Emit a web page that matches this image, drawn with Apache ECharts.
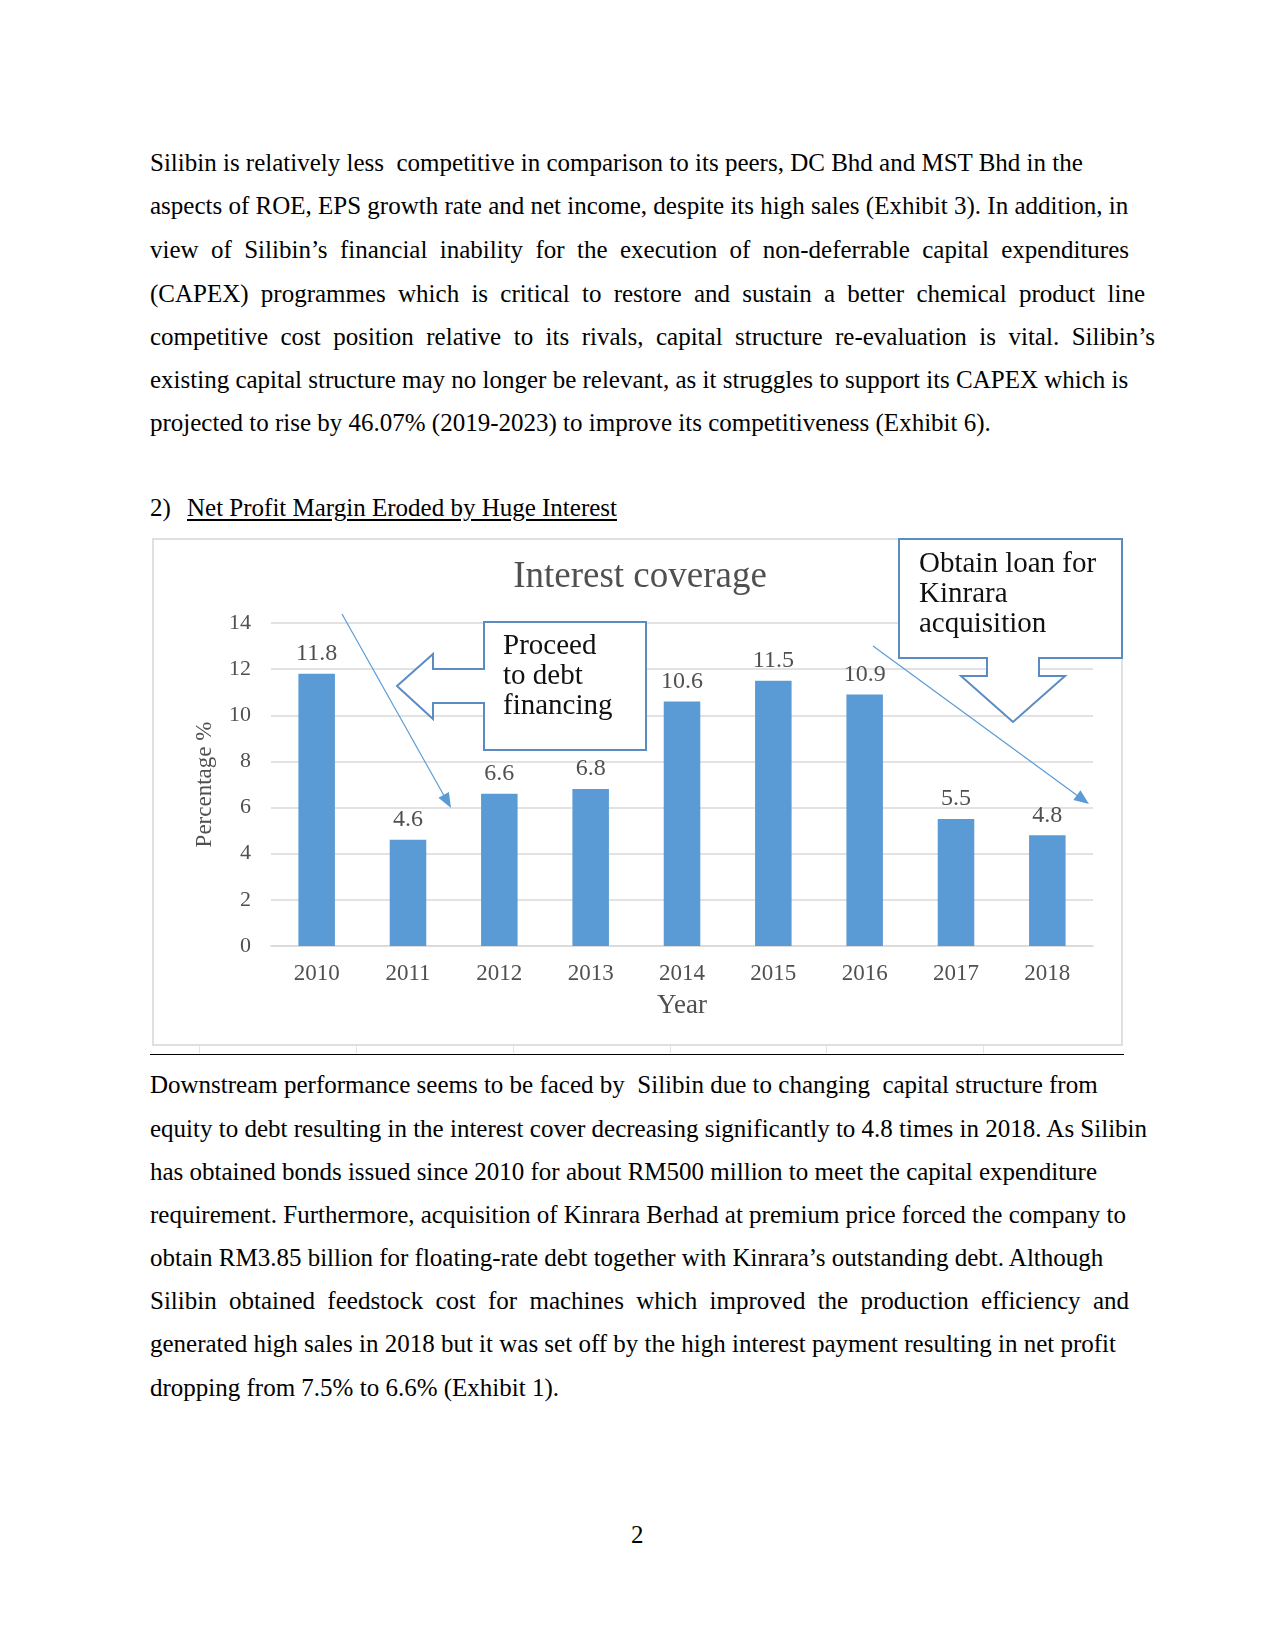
<!DOCTYPE html>
<html>
<head>
<meta charset="utf-8">
<script src="https://cdn.jsdelivr.net/npm/echarts@6/dist/echarts.min.js"></script>
<style>
  html, body { margin:0; padding:0; background:#fff; }
  body { width:1275px; height:1651px; position:relative; overflow:hidden; font-family:"Liberation Serif","Times New Roman",serif; color:#000; }
  .ln { position:absolute; left:150px; height:30px; line-height:30px; font-size:25px; white-space:pre; }
  .j { text-align:justify; text-align-last:justify; white-space:normal; }
  #chart { position:absolute; left:150px; top:535px; width:980px; height:515px; }
  .rule { position:absolute; left:150px; top:1054px; width:974px; height:1px; background:#000; }
  .tk { position:absolute; top:1046px; width:1px; height:7px; background:#e4e4e4; }
</style>
</head>
<body>
<div class="ln" style="top:148px">Silibin is relatively less  competitive in comparison to its peers, DC Bhd and MST Bhd in the</div>
<div class="ln" style="top:191px">aspects of ROE, EPS growth rate and net income, despite its high sales (Exhibit 3). In addition, in</div>
<div class="ln j" style="top:235px;width:979px">view of Silibin’s financial inability for the execution of non-deferrable capital expenditures</div>
<div class="ln j" style="top:279px;width:995px">(CAPEX) programmes which is critical to restore and sustain a better chemical product line</div>
<div class="ln j" style="top:322px;width:1005px">competitive cost position relative to its rivals, capital structure re-evaluation is vital. Silibin’s</div>
<div class="ln" style="top:365px">existing capital structure may no longer be relevant, as it struggles to support its CAPEX which is</div>
<div class="ln" style="top:408px">projected to rise by 46.07% (2019-2023) to improve its competitiveness (Exhibit 6).</div>

<div class="ln" style="top:493px">2)</div>
<div class="ln" style="top:493px;left:187px;text-decoration:underline;text-underline-offset:3px">Net Profit Margin Eroded by Huge Interest</div>

<div id="chart"></div>
<div class="tk" style="left:199px"></div>
<div class="tk" style="left:356px"></div>
<div class="tk" style="left:513px"></div>
<div class="tk" style="left:670px"></div>
<div class="tk" style="left:826px"></div>
<div class="tk" style="left:983px"></div>
<div class="rule"></div>

<div class="ln" style="top:1070px">Downstream performance seems to be faced by  Silibin due to changing  capital structure from</div>
<div class="ln" style="top:1114px">equity to debt resulting in the interest cover decreasing significantly to 4.8 times in 2018. As Silibin</div>
<div class="ln" style="top:1157px">has obtained bonds issued since 2010 for about RM500 million to meet the capital expenditure</div>
<div class="ln" style="top:1200px">requirement. Furthermore, acquisition of Kinrara Berhad at premium price forced the company to</div>
<div class="ln" style="top:1243px">obtain RM3.85 billion for floating-rate debt together with Kinrara’s outstanding debt. Although</div>
<div class="ln j" style="top:1286px;width:979px">Silibin obtained feedstock cost for machines which improved the production efficiency and</div>
<div class="ln" style="top:1329px">generated high sales in 2018 but it was set off by the high interest payment resulting in net profit</div>
<div class="ln" style="top:1373px">dropping from 7.5% to 6.6% (Exhibit 1).</div>

<div class="ln" style="top:1520px;left:631px">2</div>

<script>
const years = ['2010','2011','2012','2013','2014','2015','2016','2017','2018'];
const coverage = [11.8, 4.6, 6.6, 6.8, 10.6, 11.5, 10.9, 5.5, 4.8];
const chartTitle = 'Interest coverage';
const xName = 'Year';
const yName = 'Percentage %';
const note1 = ['Proceed', 'to debt', 'financing'];
const note2 = ['Obtain loan for', 'Kinrara', 'acquisition'];

const SERIF = '"Liberation Serif","Times New Roman",serif';
const GREY = '#505050';
const chart = echarts.init(document.getElementById('chart'), null, {renderer:'canvas'});

function arrow(x1, y1, x2, y2, color) {
  const dx = x2 - x1, dy = y2 - y1, len = Math.hypot(dx, dy);
  const ux = dx / len, uy = dy / len;
  const L = 15, W = 6;
  const bx = x2 - ux * L, by = y2 - uy * L;
  return [
    { type:'line', shape:{x1:x1, y1:y1, x2:bx, y2:by}, style:{stroke:color, lineWidth:1.2}, z:20 },
    { type:'polygon', shape:{points:[[x2,y2],[bx - uy*W, by + ux*W],[bx + uy*W, by - ux*W]]}, style:{fill:color}, z:20 }
  ];
}

const calloutStroke = '#5A8CC2';
const textStyle = (x, y, t) => ({ type:'text', x:x, y:y, z:30,
  style:{ text:t, fill:'#111', font:'29px ' + SERIF, textVerticalAlign:'middle', textAlign:'left' } });

const graphics = [
  { type:'rect', shape:{x:3, y:4, width:969, height:506}, style:{fill:'none', stroke:'#d6d6d6', lineWidth:1.5}, z:1 },
  { type:'polygon', z:25, shape:{points:[[334,87],[496,87],[496,215],[334,215],[334,168],[283,168],[283,184],[247,151],[283,119],[283,134],[334,134]]},
    style:{fill:'#fff', stroke:calloutStroke, lineWidth:2} },
  { type:'polygon', z:25, shape:{points:[[749,4],[972,4],[972,123],[889,123],[889,141],[915,141],[863,187],[811,141],[837,141],[837,123],[749,123]]},
    style:{fill:'#fff', stroke:calloutStroke, lineWidth:2} },
  textStyle(353, 111, note1[0]), textStyle(353, 141, note1[1]), textStyle(353, 171, note1[2]),
  textStyle(769, 29, note2[0]), textStyle(769, 59, note2[1]), textStyle(769, 89, note2[2])
].concat(arrow(192, 79, 301, 273, '#5B9BD5')).concat(arrow(723, 111, 939, 269, '#5B9BD5'));

chart.setOption({
  animation:false,
  title:{ text:chartTitle, left:'center', top:19, textStyle:{ fontFamily:SERIF, fontSize:37, fontWeight:'normal', color:GREY } },
  grid:{ left:121, right:37, top:88, bottom:104, containLabel:false },
  xAxis:{ type:'category', data:years, name:xName, nameLocation:'middle', nameGap:46,
    nameTextStyle:{ fontFamily:SERIF, fontSize:27, color:GREY },
    axisLine:{ lineStyle:{ color:'#d9d9d9', width:1.5 } }, axisTick:{ show:false },
    axisLabel:{ fontFamily:SERIF, fontSize:23, color:GREY, margin:16 } },
  yAxis:{ type:'value', min:0, max:14, interval:2, name:yName, nameLocation:'middle', nameGap:55, nameRotate:90,
    nameTextStyle:{ fontFamily:SERIF, fontSize:23, color:GREY },
    axisLine:{ show:false }, axisTick:{ show:false },
    splitLine:{ lineStyle:{ color:'#d9d9d9', width:1.5 } },
    axisLabel:{ fontFamily:SERIF, fontSize:22, color:GREY, margin:20 } },
  series:[{ type:'bar', data:coverage, barCategoryGap:'60%', itemStyle:{ color:'#5B9BD5' },
    label:{ show:true, position:'top', distance:8, fontFamily:SERIF, fontSize:24, color:GREY } }],
  graphic:graphics
});
</script>
</body>
</html>
